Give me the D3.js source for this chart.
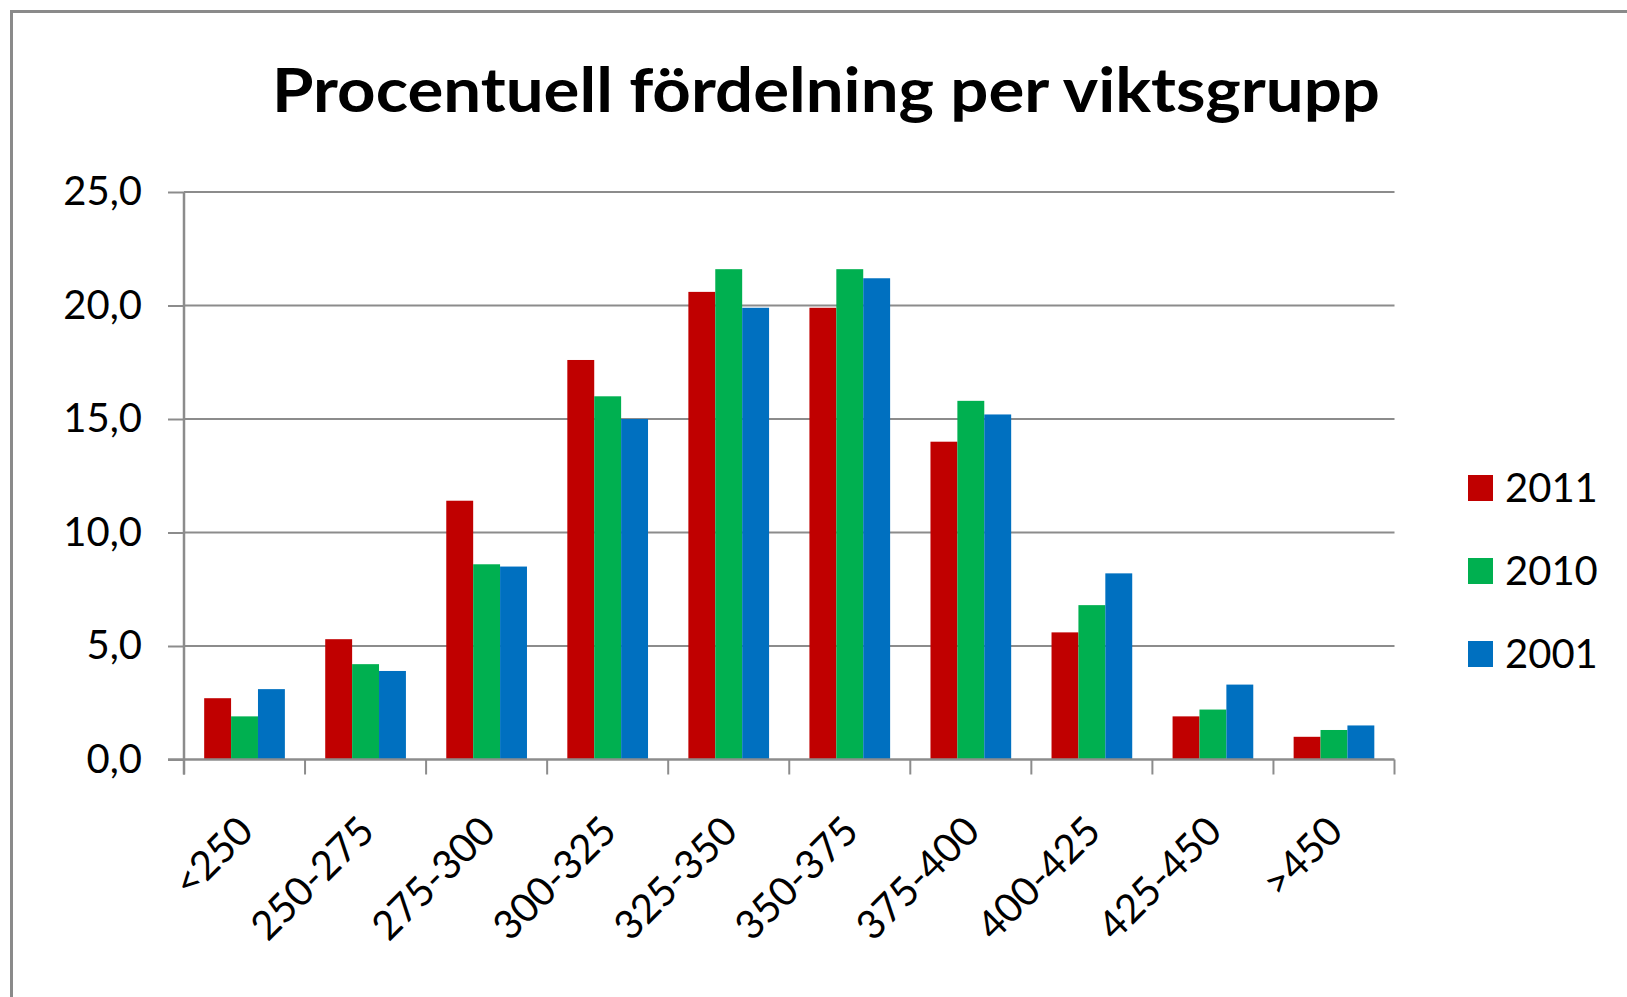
<!DOCTYPE html>
<html>
<head>
<meta charset="utf-8">
<script src="https://cdn.jsdelivr.net/npm/d3@7"></script>
<style>
    body { margin: 0; background: #fff; }
    svg { display: block; font-family: Lato, "Open Sans", sans-serif; }
</style>
</head>
<body>
<svg id="chart" width="1627" height="997"></svg>
<script>

    // Data
    var categories = ['<250', '250-275', '275-300', '300-325', '325-350', '350-375', '375-400', '400-425', '425-450', '>450'];
    var seriesNames = ['2011', '2010', '2001'];
    var values2011 = [2.7, 5.3, 11.4, 17.6, 20.6, 19.9, 14.0, 5.6, 1.9, 1.0];
    var values2010 = [1.9, 4.2, 8.6, 16.0, 21.6, 21.6, 15.8, 6.8, 2.2, 1.3];
    var values2001 = [3.1, 3.9, 8.5, 15.0, 19.9, 21.2, 15.2, 8.2, 3.3, 1.5];
    var yTicks = [0, 5, 10, 15, 20, 25];
    var colors = ['#C00000', '#00B050', '#0070C0'];

    var series = [values2011, values2010, values2001];

    // Layout
    var plot = { left: 184, right: 1394.5, top: 192, bottom: 759.5 };

    var svg = d3.select('#chart');

    // outer chart border (right / bottom fall outside the picture)
    svg.append('rect')
        .attr('x', 11.5).attr('y', 11.5)
        .attr('width', 1700).attr('height', 1100)
        .attr('fill', '#fff')
        .attr('stroke', '#8a8a8a')
        .attr('stroke-width', 3);

    var x = d3.scaleBand()
        .domain(categories)
        .range([plot.left, plot.right])
        .paddingInner(1 / 3)
        .paddingOuter(1 / 6);

    var xInner = d3.scaleBand()
        .domain(d3.range(series.length))
        .range([0, x.bandwidth()]);

    var y = d3.scaleLinear()
        .domain([0, 25])
        .range([plot.bottom, plot.top]);

    var locale = d3.formatLocale({ decimal: ',', thousands: ' ', grouping: [3], currency: ['', ''] });
    var fmt = locale.format('.1f');

    // gridlines
    svg.append('g')
        .selectAll('line')
        .data(yTicks.filter(function(d){ return d > 0; }))
        .join('line')
        .attr('x1', plot.left).attr('x2', plot.right)
        .attr('y1', function(d){ return y(d); })
        .attr('y2', function(d){ return y(d); })
        .attr('stroke', '#8c8c8c')
        .attr('stroke-width', 2);

    // bars
    series.forEach(function(vals, si){
        svg.append('g')
            .selectAll('rect')
            .data(vals)
            .join('rect')
            .attr('x', function(d, i){ return x(categories[i]) + xInner(si); })
            .attr('width', xInner.bandwidth())
            .attr('y', function(d){ return y(d); })
            .attr('height', function(d){ return y(0) - y(d); })
            .attr('fill', colors[si]);
    });

    // y axis
    var yAxis = d3.axisLeft(y)
        .tickValues(yTicks)
        .tickSize(16)
        .tickPadding(26)
        .tickFormat(fmt);

    var gy = svg.append('g')
        .attr('transform', 'translate(' + plot.left + ',0)')
        .call(yAxis);
    gy.select('.domain').remove();
    gy.selectAll('.tick line').attr('stroke', '#8c8c8c').attr('stroke-width', 2);
    gy.selectAll('.tick text')
        .attr('font-size', 40)
        .attr('font-family', 'Lato, sans-serif')
        .attr('fill', '#000');

    // axis lines
    svg.append('line')
        .attr('x1', plot.left).attr('x2', plot.left)
        .attr('y1', plot.top).attr('y2', plot.bottom + 15)
        .attr('stroke', '#8c8c8c').attr('stroke-width', 2.5);
    svg.append('line')
        .attr('x1', plot.left - 16).attr('x2', plot.right)
        .attr('y1', plot.bottom).attr('y2', plot.bottom)
        .attr('stroke', '#8c8c8c').attr('stroke-width', 2.5);

    // x ticks at category boundaries
    var step = x.step();
    svg.append('g')
        .selectAll('line')
        .data(d3.range(categories.length + 1))
        .join('line')
        .attr('x1', function(i){ return plot.left + i * step; })
        .attr('x2', function(i){ return plot.left + i * step; })
        .attr('y1', plot.bottom)
        .attr('y2', plot.bottom + 15)
        .attr('stroke', '#8c8c8c')
        .attr('stroke-width', 2);

    // x labels, rotated
    svg.append('g')
        .selectAll('text')
        .data(categories)
        .join('text')
        .attr('transform', function(d){
            return 'translate(' + (x(d) + x.bandwidth() / 2 + 11) + ',' + (plot.bottom + 74) + ') rotate(-45)';
        })
        .attr('text-anchor', 'end')
        .attr('font-size', 40)
        .attr('fill', '#000')
        .text(function(d){ return d; });

    // title
    svg.append('text')
        .attr('x', 826)
        .attr('y', 112)
        .attr('text-anchor', 'middle')
        .attr('font-size', 62)
        .attr('font-weight', 'bold')
        .attr('textLength', 1108)
        .attr('lengthAdjust', 'spacingAndGlyphs')
        .attr('fill', '#000')
        .text('Procentuell fördelning per viktsgrupp');

    // legend
    var legend = svg.append('g')
        .selectAll('g')
        .data(seriesNames)
        .join('g')
        .attr('transform', function(d, i){ return 'translate(1468,' + (475 + i * 83) + ')'; });
    legend.append('rect')
        .attr('width', 25).attr('height', 26)
        .attr('fill', function(d, i){ return colors[i]; });
    legend.append('text')
        .attr('x', 37)
        .attr('y', 27)
        .attr('font-size', 40)
        .attr('fill', '#000')
        .text(function(d){ return d; });

</script>
</body>
</html>
